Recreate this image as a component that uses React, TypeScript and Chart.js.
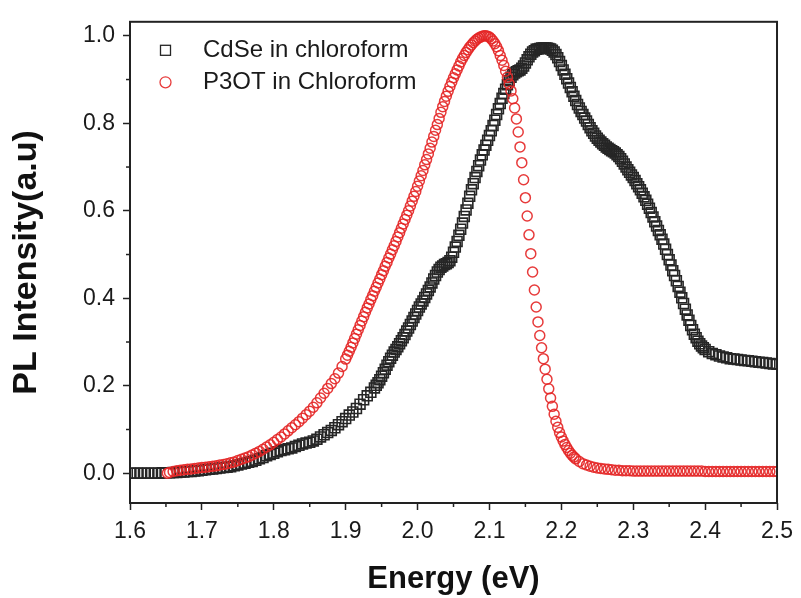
import React, { useEffect, useRef } from "react";
import { Chart, registerables } from "chart.js";

Chart.register(...registerables);

const seriesLabels = ["CdSe in chloroform", "P3OT in Chloroform"];
const xTitle = "Energy (eV)";
const yTitle = "PL Intensity(a.u)";

const cdseEnergy = [
  1.6, 1.605, 1.61, 1.615, 1.62, 1.625, 1.63, 1.635, 1.64, 1.645,
  1.65, 1.655, 1.66, 1.665, 1.67, 1.675, 1.68, 1.685, 1.69, 1.695,
  1.7, 1.705, 1.71, 1.715, 1.72, 1.725, 1.73, 1.735, 1.74, 1.745,
  1.75, 1.755, 1.76, 1.765, 1.77, 1.775, 1.78, 1.785, 1.79, 1.795,
  1.8, 1.805, 1.81, 1.815, 1.82, 1.825, 1.83, 1.835, 1.84, 1.845,
  1.85, 1.855, 1.86, 1.865, 1.87, 1.875, 1.88, 1.885, 1.89, 1.895,
  1.9, 1.905, 1.91, 1.915, 1.92, 1.925, 1.93, 1.935,
  1.94, 1.9425, 1.945, 1.9475, 1.95, 1.9525, 1.955, 1.9575, 1.96, 1.9625,
  1.965, 1.9675, 1.97, 1.9725, 1.975, 1.9775, 1.98, 1.9825, 1.985, 1.9875,
  1.99, 1.9925, 1.995, 1.9975, 2, 2.0025, 2.005, 2.0075, 2.01, 2.0125,
  2.015, 2.0175, 2.02, 2.0225, 2.025, 2.0275, 2.03, 2.0325, 2.035, 2.0375,
  2.04, 2.0425, 2.045, 2.0475, 2.05, 2.0525, 2.055, 2.0575, 2.06, 2.0625,
  2.065, 2.0675, 2.07, 2.0725, 2.075, 2.0775, 2.08, 2.0825, 2.085, 2.0875,
  2.09, 2.0925, 2.095, 2.0975, 2.1, 2.1025, 2.105, 2.1075, 2.11, 2.1125,
  2.115, 2.1175, 2.12, 2.1225, 2.125, 2.1275, 2.13, 2.1325, 2.135, 2.1375,
  2.14, 2.1425, 2.145, 2.1475, 2.15, 2.1525, 2.155, 2.1575, 2.16, 2.1625,
  2.165, 2.1675, 2.17, 2.1725, 2.175, 2.1775, 2.18, 2.1825, 2.185, 2.1875,
  2.19, 2.1925, 2.195, 2.1975, 2.2, 2.2025, 2.205, 2.2075, 2.21, 2.2125,
  2.215, 2.2175, 2.22, 2.2225, 2.225, 2.2275, 2.23, 2.2325, 2.235, 2.2375,
  2.24, 2.2425, 2.245, 2.2475, 2.25, 2.2525, 2.255, 2.2575, 2.26, 2.2625,
  2.265, 2.2675, 2.27, 2.2725, 2.275, 2.2775, 2.28, 2.2825, 2.285, 2.2875,
  2.29, 2.2925, 2.295, 2.2975, 2.3, 2.3025, 2.305, 2.3075, 2.31, 2.3125,
  2.315, 2.3175, 2.32, 2.3225, 2.325, 2.3275, 2.33, 2.3325, 2.335, 2.3375,
  2.34, 2.3425, 2.345, 2.3475, 2.35, 2.3525, 2.355, 2.3575, 2.36, 2.3625,
  2.365, 2.3675, 2.37, 2.3725, 2.375, 2.3775, 2.38, 2.3825, 2.385, 2.3875,
  2.39, 2.3925, 2.395, 2.3975, 2.4,
  2.405, 2.41, 2.415, 2.42, 2.425, 2.43, 2.435, 2.44, 2.445, 2.45,
  2.455, 2.46, 2.465, 2.47, 2.475, 2.48, 2.485, 2.49, 2.495, 2.5,
];

const cdseIntensity = [
  0, 0, 0, 0, 0, 0, 0, 0, 0, 0.001,
  0.001, 0.001, 0.002, 0.002, 0.003, 0.003, 0.004, 0.004, 0.005, 0.006,
  0.007, 0.008, 0.009, 0.01, 0.011, 0.012, 0.013, 0.014, 0.015, 0.017,
  0.019, 0.021, 0.023, 0.025, 0.027, 0.03, 0.033, 0.036, 0.04, 0.043,
  0.046, 0.049, 0.052, 0.054, 0.056, 0.058, 0.061, 0.064, 0.067, 0.069,
  0.071, 0.074, 0.078, 0.083, 0.088, 0.093, 0.098, 0.104, 0.111, 0.118,
  0.125, 0.133, 0.14, 0.148, 0.158, 0.168, 0.177, 0.185,
  0.195, 0.201, 0.207, 0.214, 0.222, 0.23, 0.238, 0.247, 0.255, 0.263,
  0.27, 0.277, 0.283, 0.289, 0.296, 0.303, 0.31, 0.317, 0.325, 0.332,
  0.34, 0.348, 0.356, 0.364, 0.372, 0.38, 0.387, 0.394, 0.402, 0.41,
  0.418, 0.426, 0.435, 0.444, 0.452, 0.46, 0.466, 0.471, 0.474, 0.477,
  0.479, 0.482, 0.486, 0.494, 0.505, 0.517, 0.53, 0.544, 0.558, 0.572,
  0.587, 0.602, 0.617, 0.633, 0.648, 0.662, 0.676, 0.69, 0.703, 0.716,
  0.728, 0.739, 0.75, 0.761, 0.772, 0.783, 0.795, 0.807, 0.82, 0.833,
  0.845, 0.857, 0.868, 0.878, 0.888, 0.897, 0.905, 0.911, 0.915, 0.918,
  0.92, 0.922, 0.926, 0.931, 0.938, 0.945, 0.952, 0.958, 0.963, 0.966,
  0.969, 0.97, 0.971, 0.972, 0.972, 0.972, 0.972, 0.971, 0.97, 0.967,
  0.963, 0.957, 0.95, 0.941, 0.932, 0.922, 0.912, 0.902, 0.892, 0.882,
  0.872, 0.862, 0.852, 0.843, 0.835, 0.827, 0.82, 0.812, 0.805, 0.797,
  0.79, 0.783, 0.777, 0.771, 0.766, 0.761, 0.757, 0.753, 0.75, 0.746,
  0.743, 0.74, 0.737, 0.735, 0.732, 0.728, 0.724, 0.719, 0.713, 0.707,
  0.7, 0.694, 0.688, 0.682, 0.676, 0.669, 0.662, 0.655, 0.648, 0.64,
  0.632, 0.624, 0.615, 0.606, 0.596, 0.586, 0.575, 0.565, 0.555, 0.545,
  0.535, 0.524, 0.512, 0.5, 0.488, 0.476, 0.463, 0.452, 0.44, 0.427,
  0.414, 0.401, 0.388, 0.375, 0.362, 0.35, 0.338, 0.328, 0.318, 0.31,
  0.302, 0.296, 0.291, 0.287, 0.283,
  0.278, 0.274, 0.271, 0.268, 0.266, 0.264, 0.262, 0.261, 0.26, 0.259,
  0.258, 0.257, 0.256, 0.255, 0.254, 0.253, 0.252, 0.251, 0.25, 0.249,
];

const p3otEnergy = [
  1.652, 1.655, 1.66, 1.665, 1.67, 1.675, 1.68, 1.685, 1.69, 1.695,
  1.7, 1.705, 1.71, 1.715, 1.72, 1.725, 1.73, 1.735, 1.74, 1.745,
  1.75, 1.755, 1.76, 1.765, 1.77, 1.775, 1.78, 1.785, 1.79, 1.795,
  1.8, 1.805, 1.81, 1.815, 1.82, 1.825, 1.83, 1.835, 1.84, 1.845,
  1.85, 1.855, 1.86, 1.865, 1.87, 1.875, 1.88, 1.885, 1.89, 1.895,
  1.9, 1.9025, 1.905, 1.9075, 1.91, 1.9125, 1.915, 1.9175, 1.92, 1.9225,
  1.925, 1.9275, 1.93, 1.9325, 1.935, 1.9375, 1.94, 1.9425, 1.945, 1.9475,
  1.95, 1.9525, 1.955, 1.9575, 1.96, 1.9625, 1.965, 1.9675, 1.97, 1.9725,
  1.975, 1.9775, 1.98, 1.9825, 1.985, 1.9875, 1.99, 1.9925, 1.995, 1.9975,
  2, 2.0025, 2.005, 2.0075, 2.01, 2.0125, 2.015, 2.0175, 2.02, 2.0225,
  2.025, 2.0275, 2.03, 2.0325, 2.035, 2.0375, 2.04, 2.0425, 2.045, 2.0475,
  2.05, 2.0525, 2.055, 2.0575, 2.06, 2.0625, 2.065, 2.0675, 2.07, 2.0725,
  2.075, 2.0775, 2.08, 2.0825, 2.085, 2.0875, 2.09, 2.0925, 2.095, 2.0975,
  2.1, 2.1025, 2.105, 2.1075, 2.11, 2.1125, 2.115, 2.1175, 2.12, 2.1225,
  2.125, 2.1275, 2.13, 2.1325, 2.135, 2.1375, 2.14, 2.1425, 2.145, 2.1475,
  2.15, 2.1525, 2.155, 2.1575, 2.16, 2.1625, 2.165, 2.1675, 2.17, 2.1725,
  2.175, 2.1775, 2.18, 2.1825, 2.185, 2.1875, 2.19, 2.1925, 2.195, 2.1975,
  2.2, 2.2025, 2.205, 2.2075, 2.21, 2.2125, 2.215, 2.2175, 2.22,
  2.225, 2.23, 2.235, 2.24, 2.245, 2.25, 2.255, 2.26, 2.265, 2.27,
  2.275, 2.28, 2.285, 2.29, 2.295, 2.3, 2.305, 2.31, 2.315, 2.32,
  2.325, 2.33, 2.335, 2.34, 2.345, 2.35, 2.355, 2.36, 2.365, 2.37,
  2.375, 2.38, 2.385, 2.39, 2.395, 2.4, 2.405, 2.41, 2.415, 2.42,
  2.425, 2.43, 2.435, 2.44, 2.445, 2.45, 2.455, 2.46, 2.465, 2.47,
  2.475, 2.48, 2.485, 2.49, 2.495, 2.5,
];

const p3otIntensity = [
  0, 0.002, 0.004, 0.006, 0.007, 0.008, 0.009, 0.01, 0.011, 0.012,
  0.013, 0.014, 0.015, 0.016, 0.017, 0.019, 0.02, 0.022, 0.024, 0.026,
  0.029, 0.032, 0.035, 0.038, 0.042, 0.046, 0.05, 0.055, 0.06, 0.065,
  0.071, 0.077, 0.083, 0.09, 0.097, 0.104, 0.111, 0.118, 0.126, 0.134,
  0.142, 0.151, 0.161, 0.172, 0.183, 0.194, 0.205, 0.216, 0.229, 0.244,
  0.261, 0.27, 0.279, 0.288, 0.298, 0.308, 0.318, 0.328, 0.338, 0.348,
  0.358, 0.368, 0.378, 0.387, 0.397, 0.406, 0.416, 0.425, 0.435, 0.444,
  0.454, 0.463, 0.473, 0.482, 0.492, 0.501, 0.511, 0.52, 0.53, 0.54,
  0.55, 0.56, 0.57, 0.58, 0.59, 0.6, 0.611, 0.622, 0.633, 0.644,
  0.656, 0.668, 0.68, 0.692, 0.705, 0.717, 0.73, 0.743, 0.757, 0.77,
  0.784, 0.797, 0.811, 0.825, 0.838, 0.85, 0.862, 0.873, 0.884, 0.894,
  0.904, 0.913, 0.922, 0.931, 0.94, 0.948, 0.955, 0.962, 0.968, 0.974,
  0.979, 0.984, 0.988, 0.992, 0.995, 0.997, 0.999, 1, 1, 0.999,
  0.997, 0.993, 0.988, 0.982, 0.975, 0.966, 0.955, 0.944, 0.932, 0.919,
  0.905, 0.89, 0.874, 0.856, 0.835, 0.81, 0.78, 0.746, 0.71, 0.671,
  0.63, 0.588, 0.545, 0.502, 0.46, 0.419, 0.38, 0.346, 0.315, 0.287,
  0.262, 0.238, 0.215, 0.193, 0.172, 0.153, 0.135, 0.119, 0.105, 0.093,
  0.083, 0.074, 0.066, 0.059, 0.052, 0.046, 0.041, 0.037, 0.033,
  0.027, 0.022, 0.019, 0.016, 0.014, 0.012, 0.011, 0.01, 0.009, 0.008,
  0.007, 0.007, 0.006, 0.006, 0.006, 0.005, 0.005, 0.005, 0.005, 0.005,
  0.005, 0.005, 0.005, 0.005, 0.005, 0.005, 0.005, 0.005, 0.005, 0.005,
  0.005, 0.005, 0.005, 0.005, 0.005, 0.004, 0.004, 0.004, 0.004, 0.004,
  0.004, 0.004, 0.004, 0.004, 0.004, 0.004, 0.004, 0.004, 0.004, 0.004,
  0.004, 0.004, 0.004, 0.004, 0.004, 0.004,
];

const FONT = "'Liberation Sans', Arial, Helvetica, sans-serif";
const CDSE_COLOR = "#262626";
const P3OT_COLOR = "rgba(228, 38, 38, 0.9)";

export default function App() {
  const ref = useRef<HTMLCanvasElement | null>(null);

  useEffect(() => {
    if (!ref.current) return;

    const decorPlugin = {
      id: "decor",
      afterDraw(chart: any) {
        const { ctx, chartArea: a, scales } = chart;
        ctx.save();
        ctx.strokeStyle = "#222";
        ctx.lineWidth = 2;
        ctx.strokeRect(a.left, a.top, a.right - a.left, a.bottom - a.top);
        ctx.lineWidth = 1.5;
        const xs = scales.x;
        const xt = xs.ticks.map((t: any) => t.value);
        for (let i = 0; i < xt.length - 1; i++) {
          const p = xs.getPixelForValue((xt[i] + xt[i + 1]) / 2);
          ctx.beginPath();
          ctx.moveTo(p, a.bottom);
          ctx.lineTo(p, a.bottom + 4);
          ctx.stroke();
        }
        const ys = scales.y;
        const yt = ys.ticks.map((t: any) => t.value);
        for (let i = 0; i < yt.length - 1; i++) {
          const p = ys.getPixelForValue((yt[i] + yt[i + 1]) / 2);
          ctx.beginPath();
          ctx.moveTo(a.left, p);
          ctx.lineTo(a.left - 4, p);
          ctx.stroke();
        }
        const mx = a.left + 35.5;
        const tx = a.left + 73;
        const rows = [a.top + 28.5, a.top + 60.5];
        ctx.font = `24px ${FONT}`;
        ctx.textBaseline = "middle";
        ctx.textAlign = "left";
        ctx.strokeStyle = CDSE_COLOR;
        ctx.lineWidth = 1.3;
        ctx.strokeRect(mx - 5, rows[0] - 5, 10, 10);
        ctx.fillStyle = "#1a1a1a";
        ctx.fillText(seriesLabels[0], tx, rows[0]);
        ctx.strokeStyle = P3OT_COLOR;
        ctx.beginPath();
        ctx.arc(mx, rows[1], 5.5, 0, Math.PI * 2);
        ctx.stroke();
        ctx.fillText(seriesLabels[1], tx, rows[1]);
        ctx.restore();
      },
    };

    const chart = new Chart(ref.current, {
      type: "scatter",
      data: {
        datasets: [
          {
            label: seriesLabels[0],
            data: cdseEnergy.map((x, i) => ({ x, y: cdseIntensity[i] })),
            pointStyle: "rect",
            pointRadius: 7,
            pointBorderWidth: 1.6,
            pointBorderColor: CDSE_COLOR,
            pointBackgroundColor: (c: any) => (c.dataIndex === 0 ? "#ffffff" : "rgba(0,0,0,0)"),
            showLine: false,
            clip: 0,
            order: 1,
          } as any,
          {
            label: seriesLabels[1],
            data: p3otEnergy.map((x, i) => ({ x, y: p3otIntensity[i] })),
            pointStyle: "circle",
            pointRadius: 5,
            pointBorderWidth: 1.5,
            pointBorderColor: P3OT_COLOR,
            pointBackgroundColor: (c: any) => (c.dataIndex === 0 ? "#ffffff" : "rgba(0,0,0,0)"),
            showLine: false,
            clip: 0,
            order: 0,
          } as any,
        ],
      },
      options: {
        animation: false,
        responsive: true,
        maintainAspectRatio: false,
        events: [],
        layout: { padding: { top: 15, right: 19, left: 0, bottom: 0 } },
        plugins: {
          legend: { display: false },
          tooltip: { enabled: false },
        },
        scales: {
          x: {
            type: "linear",
            min: 1.6,
            max: 2.5,
            afterFit: (s: any) => {
              s.height = 95;
            },
            ticks: {
              stepSize: 0.1,
              autoSkip: false,
              maxRotation: 0,
              padding: 8,
              color: "#1a1a1a",
              font: { family: FONT, size: 23 },
              callback: (v: any) => Number(v).toFixed(1),
            },
            grid: {
              display: true,
              drawOnChartArea: false,
              drawTicks: true,
              tickLength: 7,
              tickWidth: 1.5,
              tickColor: "#222",
            },
            border: { display: false },
            title: {
              display: true,
              text: xTitle,
              color: "#111",
              font: { family: FONT, size: 31, weight: "bold" },
              padding: { top: 0, bottom: 0 },
            },
          },
          y: {
            type: "linear",
            min: -0.068,
            max: 1.032,
            afterFit: (s: any) => {
              s.width = 130;
            },
            ticks: {
              stepSize: 0.2,
              includeBounds: false,
              padding: 8,
              color: "#1a1a1a",
              font: { family: FONT, size: 23 },
              callback: (v: any) => Number(v).toFixed(1),
            },
            grid: {
              display: true,
              drawOnChartArea: false,
              drawTicks: true,
              tickLength: 7,
              tickWidth: 1.5,
              tickColor: "#222",
            },
            border: { display: false },
            title: {
              display: true,
              text: yTitle,
              color: "#111",
              font: { family: FONT, size: 34, weight: "bold" },
              padding: { top: 6, bottom: 0 },
            },
          },
        },
      } as any,
      plugins: [decorPlugin],
    });

    return () => chart.destroy();
  }, []);

  return (
    <div
      style={{
        position: "fixed",
        left: 0,
        top: 0,
        width: 801,
        height: 598,
        background: "#ffffff",
      }}
    >
      <canvas ref={ref} />
    </div>
  );
}
